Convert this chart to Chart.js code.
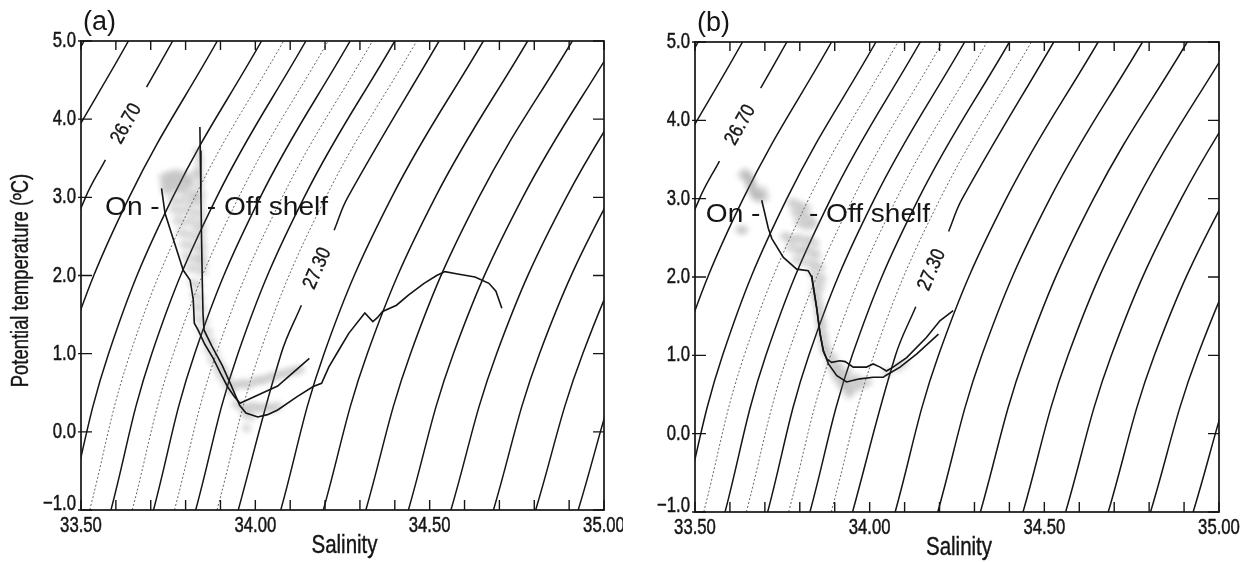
<!DOCTYPE html>
<html>
<head>
<meta charset="utf-8">
<script src="https://cdn.jsdelivr.net/npm/chart.js@4.4.1/dist/chart.umd.min.js"></script>
<style>
  html, body { margin: 0; padding: 0; background: #fff; }
  #wrap { position: relative; width: 1246px; height: 562px; }
  canvas { position: absolute; top: 0; }
  #chartA { left: 0; }
  #chartB { left: 623px; }
</style>
</head>
<body>
<div id="wrap">
  <canvas id="chartA" width="623" height="562"></canvas>
  <canvas id="chartB" width="623" height="562"></canvas>
</div>
<script>
// axes
const salTicks = [33.5, 34.0, 34.5, 35.0];
const salMinor = [33.6, 33.7, 33.8, 33.9, 34.1, 34.2, 34.3, 34.4, 34.6, 34.7, 34.8, 34.9];
const tempTicks = [-1, 0, 1, 2, 3, 4, 5];

// isopycnals (sigma-theta): salinity read where each line crosses these temperatures
const isoTemps = [-1, 1, 3, 5];
const isoLevels = [26.5, 26.6, 26.7, 26.8, 26.9, 26.95, 27.0, 27.05, 27.1, 27.15, 27.2,
                   27.25, 27.3, 27.4, 27.5, 27.6, 27.7, 27.8, 27.9, 28.0, 28.1];
const isoSal = [
  [32.976, 33.085, 33.262, 33.509],
  [33.098, 33.208, 33.387, 33.636],
  [33.220, 33.332, 33.513, 33.763],
  [33.342, 33.456, 33.638, 33.891],
  [33.464, 33.579, 33.763, 34.018],
  [33.525, 33.641, 33.826, 34.081],
  [33.586, 33.703, 33.889, 34.145],
  [33.647, 33.765, 33.952, 34.209],
  [33.708, 33.826, 34.014, 34.272],
  [33.768, 33.888, 34.077, 34.336],
  [33.829, 33.950, 34.140, 34.400],
  [33.890, 34.012, 34.202, 34.463],
  [33.951, 34.074, 34.265, 34.527],
  [34.073, 34.197, 34.391, 34.654],
  [34.195, 34.321, 34.516, 34.781],
  [34.317, 34.445, 34.641, 34.909],
  [34.439, 34.568, 34.767, 35.036],
  [34.561, 34.692, 34.892, 35.163],
  [34.683, 34.815, 35.018, 35.291],
  [34.804, 34.939, 35.143, 35.418],
  [34.926, 35.063, 35.269, 35.545]
];
const isoDotted = [26.95, 27.05, 27.15, 27.25];

// labelled isopycnals, the line is broken where the label sits
const labelText = ['26.70', '27.30'];
const labelLevels = [26.7, 27.3];
const labelGapT = [[3.48, 4.41], [1.62, 2.58]];
const labelGapS = [[33.570, 33.688], [34.132, 34.226]];
const labelAt = [[33.630, 3.94], [34.178, 2.09]];

// panel (a) profiles [salinity, temperature]
const onShelfA = [[33.731, 3.115], [33.741, 2.795], [33.793, 2.07], [33.813, 1.94], [33.822, 1.69],
  [33.825, 1.39], [33.836, 1.30], [33.855, 1.12], [33.878, 0.95], [33.90, 0.75], [33.92, 0.58],
  [33.94, 0.45], [33.956, 0.365], [34.064, 0.586], [34.155, 0.94]];
const offShelfA = [[33.841, 3.90], [33.842, 3.6], [33.844, 3.0], [33.846, 2.4], [33.848, 1.9],
  [33.85, 1.5], [33.853, 1.3], [33.875, 1.1], [33.905, 0.85], [33.93, 0.6], [33.955, 0.34],
  [33.973, 0.24], [34.007, 0.19], [34.035, 0.22], [34.064, 0.28], [34.12, 0.45], [34.166, 0.58],
  [34.19, 0.62], [34.211, 0.83], [34.24, 1.05], [34.268, 1.26], [34.314, 1.52], [34.337, 1.41],
  [34.35, 1.46], [34.365, 1.54], [34.405, 1.62], [34.439, 1.75], [34.484, 1.90], [34.52, 2.0],
  [34.544, 2.05], [34.58, 2.02], [34.63, 1.98], [34.67, 1.9], [34.69, 1.8], [34.707, 1.58]];
const cloudA = [
  [33.735, 3.25], [33.75, 3.28], [33.765, 3.3], [33.78, 3.3], [33.795, 3.28], [33.81, 3.25],
  [33.74, 3.17], [33.755, 3.2], [33.77, 3.21], [33.785, 3.2], [33.8, 3.18], [33.815, 3.17],
  [33.74, 3.09], [33.755, 3.1], [33.77, 3.12], [33.785, 3.1], [33.8, 3.08], [33.82, 3.05],
  [33.836, 3.58], [33.84, 3.47], [33.838, 3.36], [33.842, 3.25], [33.84, 3.14], [33.845, 3.03],
  [33.843, 2.92], [33.846, 2.81], [33.844, 2.7], [33.848, 2.59], [33.846, 2.48], [33.85, 2.37],
  [33.848, 2.26], [33.852, 2.15], [33.85, 2.04], [33.828, 3.3], [33.83, 3.0],
  [33.76, 2.98], [33.78, 2.95], [33.80, 2.97], [33.82, 2.93], [33.765, 2.85], [33.785, 2.82],
  [33.805, 2.84], [33.825, 2.8], [33.775, 2.7], [33.795, 2.68], [33.815, 2.7], [33.83, 2.62],
  [33.785, 2.55], [33.805, 2.53], [33.825, 2.5], [33.795, 2.4], [33.815, 2.38], [33.835, 2.35],
  [33.80, 2.25], [33.82, 2.22], [33.838, 2.2], [33.81, 2.1], [33.83, 2.08],
  [33.82, 1.9], [33.838, 1.88], [33.825, 1.75], [33.842, 1.72], [33.83, 1.6], [33.848, 1.58],
  [33.835, 1.45], [33.855, 1.42], [33.845, 1.3], [33.865, 1.28], [33.855, 1.18], [33.875, 1.15],
  [33.865, 1.05], [33.885, 1.02], [33.875, 0.93], [33.895, 0.9], [33.89, 0.82], [33.91, 0.8],
  [33.9, 0.72], [33.92, 0.7], [33.915, 0.62], [33.935, 0.6], [33.93, 0.52],
  [33.95, 0.6], [33.965, 0.62], [33.98, 0.6], [33.995, 0.64], [34.01, 0.66], [34.025, 0.66],
  [34.04, 0.7], [34.055, 0.7], [34.07, 0.74], [34.085, 0.74], [34.10, 0.77], [34.115, 0.78], [34.13, 0.8],
  [33.945, 0.36], [33.96, 0.32], [33.975, 0.3], [33.99, 0.33], [34.005, 0.31], [34.02, 0.3],
  [34.035, 0.32], [34.05, 0.3], [34.065, 0.33], [33.97, 0.22], [33.99, 0.2], [33.975, 0.05]];

// panel (b) profiles
const profile1B = [[33.691, 2.98], [33.71, 2.62], [33.72, 2.49], [33.753, 2.25], [33.791, 2.10],
  [33.824, 2.08], [33.834, 2.0], [33.848, 1.61], [33.858, 1.27], [33.867, 1.06], [33.882, 0.89],
  [33.906, 0.74], [33.934, 0.66], [33.972, 0.70], [34.01, 0.72], [34.039, 0.72], [34.045, 0.74],
  [34.087, 0.85], [34.135, 1.02], [34.197, 1.27]];
const profile2B = [[33.834, 2.02], [33.848, 1.62], [33.858, 1.28], [33.868, 1.05], [33.878, 0.95],
  [33.891, 0.91], [33.915, 0.93], [33.93, 0.92], [33.953, 0.85], [33.991, 0.85], [34.01, 0.89],
  [34.03, 0.85], [34.048, 0.80], [34.067, 0.85], [34.106, 0.97], [34.163, 1.23], [34.201, 1.44],
  [34.239, 1.57]];
const cloudB = [
  [33.635, 3.3], [33.645, 3.33], [33.65, 3.25], [33.66, 3.28], [33.655, 3.18], [33.665, 3.2],
  [33.66, 3.1], [33.672, 3.12], [33.67, 3.03], [33.68, 3.06], [33.685, 3.0], [33.695, 3.1], [33.7, 3.02],
  [33.775, 2.95], [33.79, 2.93], [33.805, 2.9], [33.82, 2.88], [33.785, 2.83], [33.80, 2.8],
  [33.815, 2.78], [33.83, 2.75], [33.795, 2.7], [33.81, 2.67], [33.825, 2.65], [33.84, 2.68],
  [33.628, 2.6], [33.64, 2.6],
  [33.755, 2.52], [33.77, 2.5], [33.785, 2.47], [33.80, 2.5], [33.815, 2.45], [33.83, 2.48],
  [33.845, 2.42], [33.77, 2.38], [33.79, 2.35], [33.805, 2.33], [33.82, 2.35], [33.835, 2.3],
  [33.85, 2.28], [33.79, 2.22], [33.81, 2.2], [33.83, 2.18], [33.845, 2.15], [33.86, 2.12],
  [33.835, 2.05], [33.85, 2.0], [33.865, 1.98], [33.845, 1.9], [33.86, 1.87],
  [33.842, 1.8], [33.852, 1.75], [33.848, 1.68], [33.858, 1.62], [33.852, 1.55], [33.862, 1.5],
  [33.856, 1.42], [33.866, 1.38], [33.86, 1.3], [33.87, 1.25], [33.865, 1.18], [33.875, 1.12], [33.87, 1.06],
  [33.88, 1.02], [33.895, 0.98], [33.885, 0.9], [33.9, 0.88], [33.915, 0.86], [33.895, 0.8],
  [33.91, 0.78], [33.925, 0.76], [33.94, 0.78], [33.905, 0.7], [33.92, 0.68], [33.935, 0.66],
  [33.95, 0.68], [33.965, 0.7], [33.92, 0.6], [33.935, 0.58], [33.95, 0.56], [33.965, 0.6],
  [33.98, 0.63], [33.995, 0.66], [33.94, 0.5], [34.05, 0.78], [34.08, 0.84], [34.1, 0.9]];

const face = '"Liberation Sans", Arial, sans-serif';
const ink = '#151515';

function toPts(list) {
  return list.map(p => ({x: p[0], y: p[1]}));
}

function isoDatasets() {
  return isoLevels.map((lev, i) => {
    let pts = isoTemps.map((t, j) => ({x: isoSal[i][j], y: t}));
    const li = labelLevels.indexOf(lev);
    if (li >= 0) {
      const [t0, t1] = labelGapT[li];
      const [s0, s1] = labelGapS[li];
      pts = pts.filter(p => p.y < t0)
        .concat([{x: s0, y: t0}, {x: null, y: null}, {x: s1, y: t1}], pts.filter(p => p.y > t1));
    }
    const dotted = isoDotted.includes(lev);
    return {
      data: pts, showLine: true, pointRadius: 0, tension: 0.4, spanGaps: false, clip: 0, order: 2,
      borderColor: dotted ? '#666' : ink, borderWidth: dotted ? 1 : 1.5,
      borderDash: dotted ? [2, 2] : []
    };
  });
}

function lineSet(list) {
  return {data: toPts(list), showLine: true, pointRadius: 0, tension: 0, clip: 0, order: 0,
          borderColor: ink, borderWidth: 1.6};
}

function cloudSet(list) {
  return {data: toPts(list), showLine: false, pointRadius: 5, pointBorderWidth: 0, clip: 0, order: 1,
          cloud: true, pointBackgroundColor: 'rgba(110,110,110,0.22)'};
}

// text squeezed or stretched horizontally, like the condensed face of the original
function putText(ctx, txt, x, y, sx, rot, bold) {
  ctx.save();
  ctx.translate(x, y);
  if (rot) ctx.rotate(rot);
  ctx.scale(sx, 1);
  ctx.fillText(txt, 0, 0);
  if (bold) { ctx.lineWidth = bold; ctx.strokeText(txt, 0, 0); }
  ctx.restore();
}

// soft edges for the station cloud
const blurPlugin = {
  id: 'softCloud',
  beforeDatasetDraw(chart, args) {
    if (!args.meta._dataset.cloud) return;
    chart.ctx.save();
    chart.ctx.filter = 'blur(2.5px)';
  },
  afterDatasetDraw(chart, args) {
    if (!args.meta._dataset.cloud) return;
    chart.ctx.restore();
  }
};

const framePlugin = {
  id: 'frame',
  afterDatasetsDraw(chart, args, o) {
    const {ctx, chartArea: a, scales: {x, y}} = chart;
    ctx.save();
    ctx.strokeStyle = ink;
    ctx.lineWidth = 1.7;
    ctx.strokeRect(a.left, a.top, a.right - a.left, a.bottom - a.top);
    ctx.lineWidth = 1.4;
    ctx.beginPath();
    salMinor.concat(salTicks).forEach(v => {
      const px = x.getPixelForValue(v);
      ctx.moveTo(px, a.bottom); ctx.lineTo(px, a.bottom - 10);
      ctx.moveTo(px, a.top); ctx.lineTo(px, a.top + 9);
    });
    tempTicks.forEach(v => {
      const py = y.getPixelForValue(v);
      ctx.moveTo(a.left - 3, py); ctx.lineTo(a.left + 11, py);
      ctx.moveTo(a.right - 11, py); ctx.lineTo(a.right, py);
    });
    ctx.stroke();

    ctx.fillStyle = ink;
    // tick labels from the scales' own ticks
    ctx.font = '22px ' + face;
    ctx.textAlign = 'center';
    ctx.textBaseline = 'top';
    x.ticks.forEach(t => putText(ctx, t.value.toFixed(2), x.getPixelForValue(t.value), a.bottom + 5, 0.76, 0, 0.5));
    ctx.textAlign = 'right';
    ctx.textBaseline = 'middle';
    y.ticks.forEach(t => {
      const lift = t.value === y.min ? -6 : 0;
      putText(ctx, t.value.toFixed(1).replace('-', '\u2212'), a.left - 5,
              y.getPixelForValue(t.value) + lift, 0.76, 0, 0.5);
    });

    // axis titles
    ctx.textAlign = 'center';
    ctx.font = '25px ' + face;
    putText(ctx, 'Salinity', (a.left + a.right) / 2 + 2, a.bottom + 36, 0.82, 0, 0.4);
    if (o.yTitle) {
      ctx.font = '23px ' + face;
      putText(ctx, 'Potential temperature (\u00baC)', 22, (a.top + a.bottom) / 2 + 5, 0.8, -Math.PI / 2, 0.4);
    }

    // isopycnal labels, turned along their line
    ctx.font = '20px ' + face;
    labelText.forEach((txt, i) => {
      const x0 = x.getPixelForValue(labelGapS[i][0]), y0 = y.getPixelForValue(labelGapT[i][0]);
      const x1 = x.getPixelForValue(labelGapS[i][1]), y1 = y.getPixelForValue(labelGapT[i][1]);
      putText(ctx, txt, x.getPixelForValue(labelAt[i][0]), y.getPixelForValue(labelAt[i][1]), 0.85,
              Math.atan2(y1 - y0, x1 - x0), 0.4);
    });

    // shelf annotation
    ctx.font = '26px ' + face;
    ctx.textAlign = 'left';
    ctx.textBaseline = 'alphabetic';
    putText(ctx, 'On -', x.getPixelForValue(o.onAt[0]), y.getPixelForValue(o.onAt[1]), 1.08);
    putText(ctx, '- Off shelf', x.getPixelForValue(o.offAt[0]), y.getPixelForValue(o.offAt[1]), 1.08);

    // panel letter
    ctx.font = '27px ' + face;
    ctx.fillText(o.letter, a.left + 2, a.top - 11);
    ctx.restore();
  }
};

function makeChart(id, sets, cfg) {
  return new Chart(document.getElementById(id), {
    type: 'scatter',
    data: {datasets: sets.concat(isoDatasets())},
    options: {
      responsive: false,
      animation: false,
      devicePixelRatio: 1,
      layout: {padding: {left: 0, top: cfg.top, right: cfg.right, bottom: 0}},
      plugins: {
        legend: {display: false},
        tooltip: {enabled: false},
        frame: {letter: cfg.letter, onAt: cfg.onAt, offAt: cfg.offAt, yTitle: cfg.yTitle}
      },
      scales: {
        x: {
          type: 'linear', min: 33.5, max: 35.0,
          grid: {display: false}, border: {display: false},
          afterBuildTicks: s => { s.ticks = salTicks.map(v => ({value: v})); },
          afterFit: s => { s.height = cfg.xHeight; s.paddingLeft = 0; s.paddingRight = 0; },
          ticks: {display: false}
        },
        y: {
          type: 'linear', min: -1, max: 5,
          grid: {display: false}, border: {display: false},
          afterBuildTicks: s => { s.ticks = tempTicks.map(v => ({value: v})); },
          afterFit: s => { s.width = cfg.yWidth; s.paddingTop = 0; s.paddingBottom = 0; },
          ticks: {display: false}
        }
      }
    },
    plugins: [blurPlugin, framePlugin]
  });
}

makeChart('chartA', [lineSet(onShelfA), lineSet(offShelfA), cloudSet(cloudA)], {
  top: 41, right: 19, xHeight: 52, yWidth: 81, yTitle: true, letter: '(a)',
  onAt: [33.569, 2.774], offAt: [33.861, 2.774]
});
makeChart('chartB', [lineSet(profile1B), lineSet(profile2B), cloudSet(cloudB)], {
  top: 42, right: 27, xHeight: 50, yWidth: 72, yTitle: false, letter: '(b)',
  onAt: [33.531, 2.702], offAt: [33.826, 2.702]
});
</script>
</body>
</html>
